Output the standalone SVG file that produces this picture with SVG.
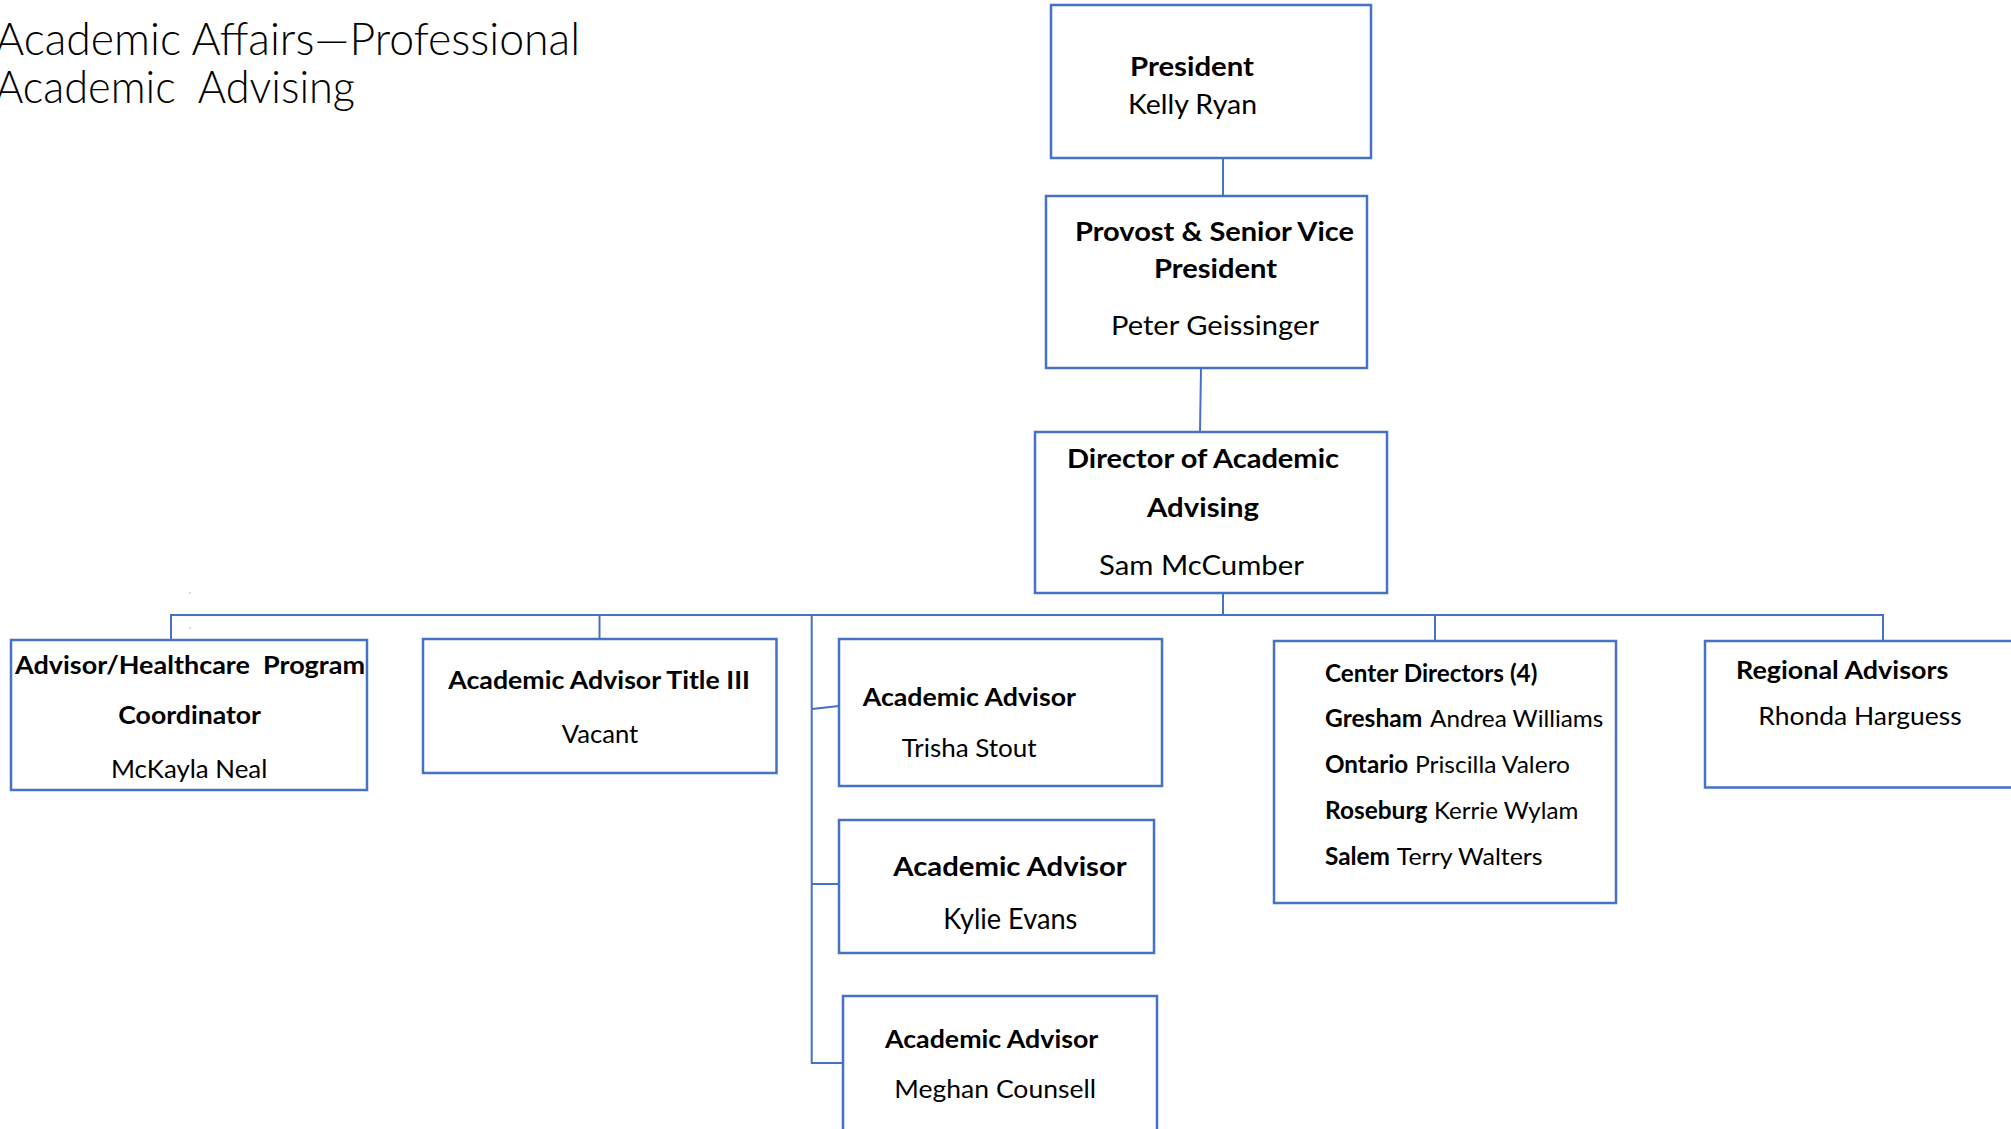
<svg xmlns="http://www.w3.org/2000/svg" width="2011" height="1129" viewBox="0 0 2011 1129">
<style>
.box{fill:#ffffff;stroke:#4472C4;stroke-width:2.5}
.con{fill:none;stroke:#4472C4;stroke-width:2}
text{font-family:Lato,"Liberation Sans","Noto Sans",sans-serif;fill:#000000;white-space:pre}
.b{font-weight:700}
.r{font-weight:400}
.title{font-weight:300;font-size:46px}
</style>
<rect width="2011" height="1129" fill="#ffffff"/>
<g id="title">
<text class="title" x="-5" y="55" textLength="585" lengthAdjust="spacingAndGlyphs">Academic Affairs—Professional</text>
<text class="title" x="-5" y="103" textLength="360" lengthAdjust="spacingAndGlyphs">Academic  Advising</text>
</g>
<g id="connectors">
<line class="con" x1="1223" y1="158" x2="1223" y2="196"/>
<line class="con" x1="1201" y1="368" x2="1200" y2="432"/>
<line class="con" x1="1223" y1="593" x2="1223" y2="615"/>
<line class="con" x1="170" y1="615" x2="1884" y2="615"/>
<line class="con" x1="171" y1="615" x2="171" y2="640"/>
<line class="con" x1="599.5" y1="615" x2="599.5" y2="639"/>
<polyline class="con" points="811.7,615 811.7,1063 843,1063"/>
<line class="con" x1="812" y1="709" x2="839" y2="706"/>
<line class="con" x1="812" y1="884" x2="839" y2="884"/>
<line class="con" x1="1435" y1="615" x2="1435" y2="641"/>
<line class="con" x1="1883" y1="614" x2="1883" y2="643"/>
<rect x="189.5" y="592.5" width="1" height="1" fill="#4472C4"/>
<rect x="189.5" y="627.5" width="1" height="1" fill="#4472C4"/>
</g>
<g id="president">
<rect class="box" x="1051" y="5" width="320" height="153"/>
<text class="b" font-size="26" x="1130" y="76" textLength="124" lengthAdjust="spacingAndGlyphs">President</text>
<text class="r" font-size="27" x="1128" y="114" textLength="129" lengthAdjust="spacingAndGlyphs">Kelly Ryan</text>
</g>
<g id="provost">
<rect class="box" x="1046" y="196" width="321" height="172"/>
<text class="b" font-size="26.5" x="1075" y="241" textLength="279" lengthAdjust="spacingAndGlyphs">Provost &amp; Senior Vice</text>
<text class="b" font-size="26.5" x="1154" y="278" textLength="123" lengthAdjust="spacingAndGlyphs">President</text>
<text class="r" font-size="26.5" x="1111" y="335" textLength="208" lengthAdjust="spacingAndGlyphs">Peter Geissinger</text>
</g>
<g id="director">
<rect class="box" x="1035" y="432" width="352" height="161"/>
<text class="b" font-size="26.5" x="1067" y="468" textLength="272" lengthAdjust="spacingAndGlyphs">Director of Academic</text>
<text class="b" font-size="26.5" x="1147" y="517" textLength="112" lengthAdjust="spacingAndGlyphs">Advising</text>
<text class="r" font-size="27" x="1099" y="575" textLength="205" lengthAdjust="spacingAndGlyphs">Sam McCumber</text>
</g>
<g id="healthcare-coordinator">
<rect class="box" x="11" y="640" width="356" height="150"/>
<text class="b" font-size="24" x="15" y="674" textLength="350" lengthAdjust="spacingAndGlyphs">Advisor/Healthcare  Program</text>
<text class="b" font-size="24" x="118.3" y="724" textLength="142.7" lengthAdjust="spacingAndGlyphs">Coordinator</text>
<text class="r" font-size="25.5" x="111" y="778" textLength="156.3" lengthAdjust="spacingAndGlyphs">McKayla Neal</text>
</g>
<g id="advisor-title-iii">
<rect class="box" x="423" y="639" width="353.5" height="134"/>
<text class="b" font-size="24.7" x="448.3" y="689" textLength="301.7" lengthAdjust="spacingAndGlyphs">Academic Advisor Title III</text>
<text class="r" font-size="24.7" x="561.7" y="742.7" textLength="76.6" lengthAdjust="spacingAndGlyphs">Vacant</text>
</g>
<g id="advisor-trisha">
<rect class="box" x="839" y="639" width="323" height="147"/>
<text class="b" font-size="24.7" x="862.7" y="706" textLength="213.3" lengthAdjust="spacingAndGlyphs">Academic Advisor</text>
<text class="r" font-size="25.5" x="901.7" y="757" textLength="135" lengthAdjust="spacingAndGlyphs">Trisha Stout</text>
</g>
<g id="advisor-kylie">
<rect class="box" x="839" y="820" width="315" height="133"/>
<text class="b" font-size="27" x="893.3" y="876" textLength="233.4" lengthAdjust="spacingAndGlyphs">Academic Advisor</text>
<text class="r" font-size="28" x="943.3" y="929" textLength="134" lengthAdjust="spacingAndGlyphs">Kylie Evans</text>
</g>
<g id="advisor-meghan">
<rect class="box" x="843" y="996" width="314" height="200"/>
<text class="b" font-size="25.5" x="885" y="1048" textLength="213.3" lengthAdjust="spacingAndGlyphs">Academic Advisor</text>
<text class="r" font-size="24.7" x="894.3" y="1098" textLength="201.7" lengthAdjust="spacingAndGlyphs">Meghan Counsell</text>
</g>
<g id="center-directors">
<rect class="box" x="1274" y="641" width="342" height="262"/>
<text class="b" font-size="24" x="1325" y="681.7" textLength="212.3" lengthAdjust="spacingAndGlyphs">Center Directors (4)</text>
<text class="b" font-size="24" x="1325" y="727.3" textLength="97.3" lengthAdjust="spacingAndGlyphs">Gresham</text>
<text class="r" font-size="24" x="1430" y="727.3" textLength="173.3" lengthAdjust="spacingAndGlyphs">Andrea Williams</text>
<text class="b" font-size="24" x="1325" y="773.3" textLength="83.3" lengthAdjust="spacingAndGlyphs">Ontario</text>
<text class="r" font-size="24" x="1415" y="773.3" textLength="155" lengthAdjust="spacingAndGlyphs">Priscilla Valero</text>
<text class="b" font-size="24" x="1325" y="819.3" textLength="102.3" lengthAdjust="spacingAndGlyphs">Roseburg</text>
<text class="r" font-size="24" x="1434" y="819.3" textLength="144.3" lengthAdjust="spacingAndGlyphs">Kerrie Wylam</text>
<text class="b" font-size="24" x="1325" y="865" textLength="65" lengthAdjust="spacingAndGlyphs">Salem</text>
<text class="r" font-size="24" x="1396.7" y="865" textLength="146" lengthAdjust="spacingAndGlyphs">Terry Walters</text>
</g>
<g id="regional-advisors">
<rect class="box" x="1705" y="641" width="330" height="146.5"/>
<text class="b" font-size="24" x="1736" y="679" textLength="212.3" lengthAdjust="spacingAndGlyphs">Regional Advisors</text>
<text class="r" font-size="24.5" x="1758.3" y="725" textLength="203.4" lengthAdjust="spacingAndGlyphs">Rhonda Harguess</text>
</g>
</svg>
